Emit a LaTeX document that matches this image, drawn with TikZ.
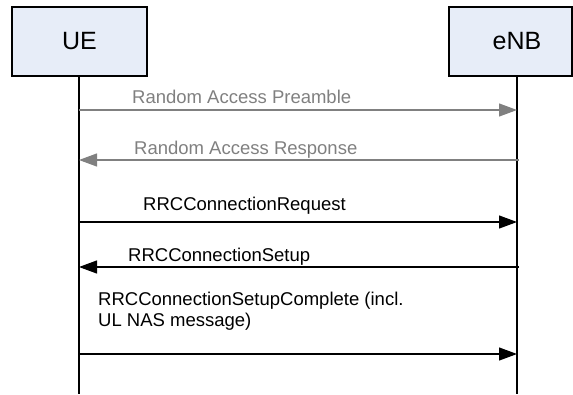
\documentclass[tikz,border=0pt]{standalone}
\usepackage{xcolor}
\usepackage{fontspec}
\setmainfont{Liberation Sans}
\usepackage{tikz}
\usetikzlibrary{positioning,arrows.meta}

\definecolor{boxblue}{RGB}{231,237,248}
\definecolor{msggray}{RGB}{128,128,128}

\tikzset{
  actor/.style={draw,line width=1.5pt,fill=boxblue,rectangle,minimum height=69pt,
    font=\fontsize{25}{28}\selectfont,inner sep=0pt},
  lifeline/.style={line width=1.8pt},
  msg/.style={line width=1.2pt,-{Triangle[length=18pt,width=13pt]}},
  grmsg/.style={msg,draw=msggray,fill=msggray},
  msgtext/.style={anchor=base west,inner sep=0pt,font=\fontsize{18.5}{21}\selectfont,align=left}
}

\begin{document}
\begin{tikzpicture}[x=1pt,y=-1pt]
			\useasboundingbox (0,0) rectangle (573,394);

			\node[actor,minimum width=135pt] (ue) at (79.5,41.5) {UE};
			\node[actor,minimum width=123pt] (enb) at (510.5,41.5) {\hspace*{13pt}eNB};

			\coordinate (ue-end) at (79,394);
			\coordinate (enb-end) at (517,394);
			\draw[lifeline] (ue.south -| ue-end) -- (ue-end);
			\draw[lifeline] (enb.south -| enb-end) -- (enb-end);

			% messages
			\coordinate (ue1) at (79,110);  \coordinate (enb1) at (517,110);
			\coordinate (ue2) at (79,160);  \coordinate (enb2) at (519,160);
			\coordinate (ue3) at (79,222);  \coordinate (enb3) at (517,222);
			\coordinate (ue4) at (79,267);  \coordinate (enb4) at (519,267);
			\coordinate (ue5) at (79,354);  \coordinate (enb5) at (517,354);

			\draw[grmsg] (ue1) -- (enb1);
			\draw[grmsg] (enb2) -- (ue2);
			\draw[msg] (ue3) -- (enb3);
			\draw[msg] (enb4) -- (ue4);
			\draw[msg] (ue5) -- (enb5);

			\node[msgtext,text=msggray] (m1) at (132,103) {Random Access Preamble};
			\node[msgtext,text=msggray] (m2) at (134,154) {Random Access Response};
			\node[msgtext] (m3) at (143,210) {RRCConnectionRequest};
			\node[msgtext] (m4) at (128,261) {RRCConnectionSetup};
			\node[msgtext] (m5) at (98,326) {RRCConnectionSetupComplete (incl.\\UL NAS message)};

		\end{tikzpicture}
\end{document}
